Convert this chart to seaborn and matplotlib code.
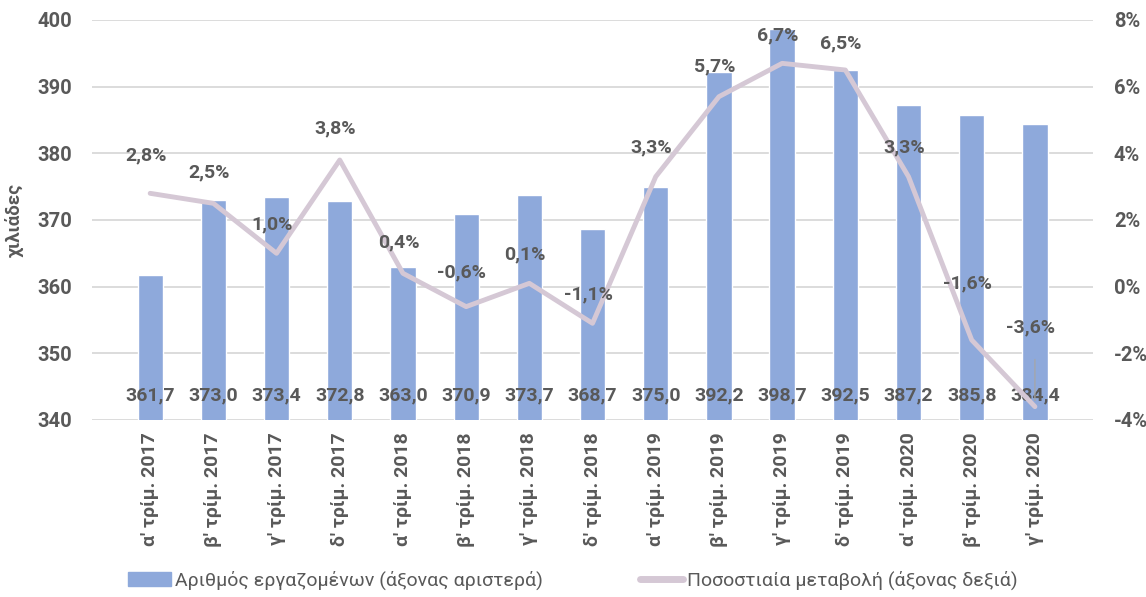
import matplotlib
matplotlib.use("Agg")
import matplotlib.pyplot as plt
import seaborn as sns
import pandas as pd
from matplotlib.ticker import FuncFormatter
from matplotlib.patches import Patch
from matplotlib.lines import Line2D

categories = ["α' τρίμ. 2017", "β' τρίμ. 2017", "γ' τρίμ. 2017", "δ' τρίμ. 2017",
              "α' τρίμ. 2018", "β' τρίμ. 2018", "γ' τρίμ. 2018", "δ' τρίμ. 2018",
              "α' τρίμ. 2019", "β' τρίμ. 2019", "γ' τρίμ. 2019", "δ' τρίμ. 2019",
              "α' τρίμ. 2020", "β' τρίμ. 2020", "γ' τρίμ. 2020"]
employed = [361.7, 373.0, 373.4, 372.8, 363.0, 370.9, 373.7, 368.7,
            375.0, 392.2, 398.7, 392.5, 387.2, 385.8, 384.4]
pct_change = [2.8, 2.5, 1.0, 3.8, 0.4, -0.6, 0.1, -1.1,
              3.3, 5.7, 6.7, 6.5, 3.3, -1.6, -3.6]

bar_label = "Αριθμός εργαζομένων (άξονας αριστερά)"
line_label = "Ποσοστιαία μεταβολή (άξονας δεξιά)"

sns.set_theme(style="white")
plt.rcParams['font.family'] = ['Roboto', 'DejaVu Sans']

TXT = "#595959"
BAR = "#8EA9DB"
LINE = "#D5C8D5"
GRID = "#D9D9D9"

df = pd.DataFrame({"q": categories, "emp": employed, "pct": pct_change})

fig = plt.figure(figsize=(11.46, 5.97), dpi=100)
ax = fig.add_axes([0.0803, 0.2965, 0.8735, 0.67])

sns.barplot(data=df, x="q", y="emp", color=BAR, width=0.4, ax=ax, saturation=1)
ax.set_ylim(340, 400)
ax.set_yticks(range(340, 401, 10))
ax.yaxis.grid(True, color=GRID, linewidth=1.3)
ax.set_axisbelow(True)
for s in ax.spines.values():
    s.set_visible(False)
ax.set_xlabel("")
ax.set_ylabel("χιλιάδες", fontsize=13.5, fontweight="bold", color=TXT, labelpad=10)
ax.tick_params(axis="y", length=0, labelsize=14.5, labelcolor=TXT, pad=14)
ax.tick_params(axis="x", length=0, labelsize=14, labelcolor=TXT, pad=9)
for t in ax.get_yticklabels():
    t.set_fontweight("bold")
for t in ax.get_xticklabels():
    t.set_rotation(90)
    t.set_fontweight("bold")

for i, v in enumerate(employed):
    ax.text(i, 343.7, f"{v:.1f}".replace(".", ","), ha="center", va="center",
            fontsize=14, fontweight="bold", color=TXT, zorder=5)

ax2 = ax.twinx()
sns.lineplot(x=list(range(len(categories))), y=pct_change, color=LINE, linewidth=3.5,
             ax=ax2, solid_capstyle="round", sort=False)
ax2.set_ylim(-4, 8)
ax2.set_yticks(range(-4, 9, 2))
ax2.yaxis.set_major_formatter(FuncFormatter(lambda v, p: f"{int(v)}%"))
ax2.tick_params(axis="y", length=0, labelsize=14.5, labelcolor=TXT, pad=15)
for t in ax2.get_yticklabels():
    t.set_fontweight("bold")
for s in ax2.spines.values():
    s.set_visible(False)
ax2.set_xlim(ax.get_xlim())

offsets = [27, 22, 21, 22.5, 22, 24.5, 21, 21, 21, 21.5, 20, 19, 21, 41, 57]
for i, v in enumerate(pct_change):
    ax2.annotate(f"{v:.1f}%".replace(".", ","), (i, v), xytext=(-3, offsets[i]),
                 textcoords="offset points", ha="center", va="center",
                 fontsize=14, fontweight="bold", color=TXT, zorder=6)
ax2.annotate("", (14, -3.5), xytext=(14, -2.1),
             arrowprops=dict(arrowstyle="-", color="#A6A6A6", lw=0.9))

handles = [Patch(facecolor=BAR, edgecolor=BAR), Line2D([0], [0], color=LINE, lw=5)]
fig.legend(handles, [bar_label, line_label], loc="center", bbox_to_anchor=(0.5, 0.028),
           ncol=2, frameon=False, fontsize=14, labelcolor=TXT, columnspacing=5,
           handlelength=2.2, handletextpad=0.2)

fig.savefig("out.png", dpi=100)
